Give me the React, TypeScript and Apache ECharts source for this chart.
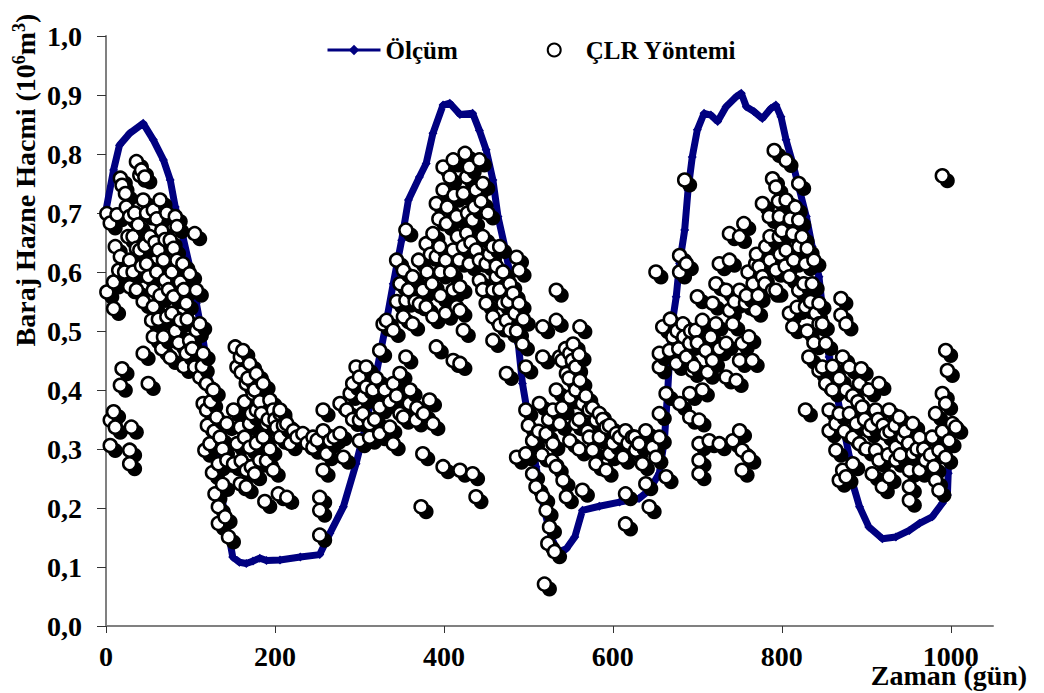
import React, { useEffect, useRef } from "react";
import * as echarts from "echarts";

// Ölçüm (measured) series: day and volume readings
const olcumDays = [0, 9, 16, 28, 44, 56, 68, 76, 82, 91, 99, 107, 115, 123, 129, 133, 139, 145, 150, 158, 166, 174, 182, 190, 206, 230, 253, 265, 281, 296, 308, 320, 330, 340, 350, 358, 371, 379, 387, 399, 407, 419, 434, 442, 450, 458, 464, 472, 482, 488, 493, 501, 509, 519, 527, 535, 545, 555, 564, 584, 608, 631, 643, 655, 661, 665, 669, 675, 679, 685, 689, 694, 700, 708, 716, 724, 734, 746, 752, 758, 767, 777, 787, 793, 799, 805, 813, 821, 829, 836, 844, 850, 856, 864, 872, 880, 884, 892, 903, 919, 935, 951, 963, 978, 990, 996, 997, 998, 999];
const olcumValues = [0.705, 0.773, 0.815, 0.835, 0.852, 0.824, 0.79, 0.756, 0.71, 0.66, 0.61, 0.547, 0.485, 0.41, 0.344, 0.259, 0.202, 0.157, 0.117, 0.108, 0.106, 0.11, 0.115, 0.111, 0.112, 0.117, 0.121, 0.157, 0.202, 0.275, 0.343, 0.428, 0.501, 0.58, 0.654, 0.722, 0.761, 0.784, 0.835, 0.883, 0.886, 0.867, 0.869, 0.84, 0.807, 0.756, 0.694, 0.643, 0.569, 0.479, 0.411, 0.343, 0.27, 0.196, 0.151, 0.125, 0.131, 0.151, 0.196, 0.203, 0.21, 0.216, 0.23, 0.259, 0.315, 0.4, 0.501, 0.558, 0.615, 0.671, 0.739, 0.795, 0.841, 0.869, 0.866, 0.855, 0.88, 0.897, 0.903, 0.88, 0.872, 0.86, 0.877, 0.883, 0.863, 0.824, 0.784, 0.739, 0.694, 0.643, 0.592, 0.513, 0.456, 0.4, 0.343, 0.287, 0.241, 0.202, 0.168, 0.148, 0.151, 0.162, 0.174, 0.185, 0.208, 0.222, 0.259, 0.315, 0.345];

// ÇLR Yöntemi estimates: [day, volume]
const clrCycle1 = [[36,0.787],[42,0.773],[46,0.761],[40,0.764],[19,0.747],[17,0.759],[23,0.733],[1,0.699],[5,0.683],[13,0.697],[28,0.694],[44,0.722],[64,0.722],[56,0.705],[82,0.694],[84,0.677],[32,0.66],[52,0.66],[76,0.654],[11,0.643],[17,0.626],[40,0.637],[62,0.637],[28,0.62],[48,0.614],[68,0.62],[91,0.614],[15,0.603],[32,0.6],[9,0.583],[50,0.592],[70,0.586],[88,0.583],[99,0.597],[107,0.569],[1,0.566],[28,0.575],[56,0.569],[80,0.558],[95,0.547],[9,0.538],[56,0.541],[72,0.524],[88,0.518],[111,0.512],[54,0.518],[107,0.501],[56,0.49],[68,0.49],[99,0.484],[44,0.462],[95,0.462],[115,0.462],[105,0.439],[111,0.422],[19,0.436],[17,0.408],[50,0.411],[119,0.411],[127,0.4],[115,0.377],[9,0.363],[5,0.349],[11,0.337],[30,0.337],[5,0.306],[28,0.298],[28,0.275],[119,0.366],[131,0.354],[123,0.309],[135,0.32],[117,0.298],[133,0.275],[143,0.281],[129,0.224],[133,0.202],[133,0.174],[145,0.151],[141,0.185],[105,0.665]];
const clrCycle1Dense = [[24,0.71],[34,0.7],[38,0.68],[48,0.7],[60,0.69],[66,0.67],[72,0.7],[26,0.66],[36,0.64],[46,0.645],[58,0.65],[70,0.655],[80,0.64],[22,0.6],[42,0.61],[60,0.6],[78,0.6],[84,0.62],[36,0.57],[44,0.55],[64,0.56],[74,0.57],[92,0.57],[62,0.52],[78,0.53],[96,0.52],[82,0.5],[66,0.47],[86,0.48],[102,0.47],[76,0.455],[92,0.44],[114,0.44],[124,0.38],[120,0.34],[128,0.33],[138,0.3],[126,0.26],[138,0.24]];
const clrTrough1 = [[153,0.473],[162,0.467],[159,0.456],[170,0.445],[155,0.439],[178,0.428],[166,0.411],[186,0.411],[174,0.394],[194,0.383],[178,0.366],[151,0.366],[143,0.343],[159,0.337],[170,0.343],[198,0.366],[190,0.343],[206,0.36],[202,0.337],[155,0.309],[170,0.303],[186,0.32],[151,0.275],[166,0.264],[182,0.281],[198,0.264],[159,0.241],[166,0.236],[188,0.211],[204,0.224],[176,0.258],[206,0.366],[214,0.343],[206,0.32],[222,0.331],[233,0.326],[218,0.309],[245,0.32],[257,0.331],[245,0.303],[265,0.314],[261,0.292],[277,0.326],[281,0.286],[257,0.366],[214,0.218],[257,0.264],[253,0.218],[253,0.196],[253,0.154]];
const clrTrough1Dense = [[160,0.43],[168,0.42],[176,0.4],[182,0.38],[164,0.38],[172,0.36],[184,0.36],[192,0.35],[200,0.35],[210,0.34],[226,0.32],[238,0.31],[250,0.315],[270,0.32],[164,0.32],[178,0.31],[194,0.3],[160,0.28],[172,0.27],[190,0.28]];
const clrRise2 = [[277,0.377],[289,0.394],[296,0.439],[308,0.439],[300,0.422],[308,0.405],[292,0.411],[285,0.366],[304,0.388],[300,0.349],[312,0.343],[324,0.371],[324,0.326],[300,0.314],[312,0.32],[336,0.337],[340,0.309],[352,0.354],[359,0.377],[367,0.349],[383,0.383],[387,0.343],[375,0.292],[399,0.27],[373,0.202],[355,0.456],[340,0.411],[348,0.428],[324,0.467],[332,0.518],[328,0.512],[340,0.501],[352,0.524],[363,0.512],[344,0.62],[352,0.603],[348,0.58],[363,0.592],[375,0.569],[355,0.552],[371,0.546],[379,0.541],[387,0.524],[391,0.473],[411,0.45],[355,0.671],[387,0.665],[379,0.648],[395,0.643],[391,0.626],[411,0.637],[411,0.569],[415,0.541],[391,0.716],[399,0.739],[399,0.778],[411,0.79],[407,0.761],[415,0.694],[403,0.682]];
const clrRise2Dense = [[316,0.4],[320,0.42],[330,0.4],[336,0.38],[344,0.39],[348,0.36],[360,0.4],[368,0.37],[376,0.36],[292,0.35],[304,0.36],[318,0.35],[344,0.55],[358,0.57],[366,0.55],[380,0.6],[386,0.58],[396,0.6],[402,0.62],[408,0.6],[396,0.56],[402,0.53],[384,0.63],[370,0.62],[394,0.69],[404,0.71],[412,0.73],[416,0.66],[418,0.62]];
const clrFall2 = [[425,0.801],[430,0.778],[442,0.79],[427,0.761],[438,0.739],[423,0.733],[446,0.75],[434,0.688],[427,0.666],[446,0.66],[423,0.643],[438,0.637],[458,0.643],[466,0.643],[430,0.614],[450,0.614],[486,0.625],[489,0.603],[442,0.586],[462,0.592],[419,0.575],[458,0.569],[482,0.564],[450,0.547],[470,0.547],[489,0.547],[458,0.524],[474,0.518],[419,0.535],[423,0.501],[458,0.484],[478,0.501],[493,0.478],[419,0.445],[474,0.428],[497,0.439],[533,0.569],[533,0.518],[517,0.507],[561,0.507],[517,0.456],[537,0.456],[553,0.478],[549,0.462],[556,0.439],[545,0.428],[561,0.416],[533,0.4],[549,0.388],[564,0.377],[513,0.377],[529,0.366],[497,0.366],[572,0.366],[580,0.349],[537,0.343],[556,0.343],[592,0.337],[604,0.326],[615,0.331],[623,0.32],[631,0.309],[521,0.326],[505,0.314],[529,0.309],[549,0.314],[576,0.298],[596,0.292],[612,0.286],[627,0.298],[486,0.286],[497,0.292],[580,0.275],[592,0.264],[533,0.27],[505,0.258],[541,0.247],[509,0.236],[517,0.219],[545,0.219],[564,0.23],[615,0.224],[434,0.258],[438,0.219],[419,0.264],[521,0.196],[525,0.168],[523,0.14],[531,0.126],[519,0.071],[615,0.173]];
const clrFall2Dense = [[428,0.7],[436,0.71],[444,0.72],[452,0.7],[432,0.65],[442,0.62],[454,0.63],[462,0.61],[470,0.6],[478,0.58],[446,0.57],[466,0.57],[476,0.55],[484,0.53],[466,0.51],[486,0.5],[494,0.52],[540,0.45],[544,0.47],[552,0.45],[560,0.46],[548,0.42],[556,0.4],[568,0.39],[576,0.37],[584,0.36],[588,0.35],[596,0.34],[608,0.32],[618,0.31],[626,0.32],[600,0.31],[584,0.32],[570,0.33],[560,0.35],[540,0.37],[524,0.35],[512,0.33],[500,0.34],[516,0.29],[528,0.28],[560,0.3],[572,0.32]];
const clrRise3 = [[631,0.309],[639,0.331],[647,0.303],[655,0.32],[635,0.275],[651,0.286],[639,0.241],[643,0.202],[663,0.253],[655,0.36],[663,0.394],[655,0.439],[655,0.462],[659,0.507],[671,0.49],[667,0.467],[683,0.512],[675,0.445],[691,0.479],[698,0.501],[706,0.518],[687,0.456],[710,0.467],[722,0.512],[718,0.45],[734,0.479],[694,0.433],[691,0.394],[706,0.4],[679,0.377],[691,0.354],[702,0.349],[742,0.512],[750,0.45],[753,0.479],[761,0.49],[765,0.45],[734,0.422],[746,0.416],[702,0.309],[702,0.281],[702,0.258],[714,0.314],[726,0.309],[742,0.314],[750,0.331],[753,0.298],[761,0.286],[753,0.264],[651,0.6],[679,0.628],[679,0.6],[687,0.614],[685,0.756],[700,0.558],[726,0.614],[738,0.62],[722,0.58],[734,0.569],[750,0.569],[757,0.547],[718,0.547],[738,0.535],[769,0.535],[738,0.665],[750,0.66],[755,0.682],[769,0.614],[777,0.592],[789,0.569],[777,0.716],[789,0.758],[793,0.744],[791,0.806],[805,0.789],[820,0.75],[785,0.694],[797,0.694],[805,0.722],[820,0.688],[797,0.66],[813,0.665],[781,0.643],[805,0.637],[820,0.643],[828,0.614],[773,0.609],[793,0.603],[809,0.592],[820,0.569],[793,0.569],[809,0.53],[813,0.507],[828,0.541],[836,0.58],[832,0.456],[828,0.366],[844,0.512],[844,0.433]];
const clrRise3Dense = [[668,0.52],[676,0.5],[684,0.49],[692,0.5],[700,0.48],[716,0.49],[726,0.47],[678,0.47],[696,0.44],[712,0.43],[744,0.55],[758,0.56],[766,0.58],[772,0.56],[780,0.58],[760,0.6],[770,0.63],[786,0.62],[798,0.63],[804,0.61],[814,0.62],[786,0.66],[800,0.67],[810,0.69],[816,0.71],[796,0.72],[824,0.66],[830,0.64],[838,0.62],[826,0.58],[834,0.55],[840,0.53],[818,0.54],[830,0.5],[838,0.48]];
const clrFall3 = [[990,0.763],[870,0.555],[870,0.527],[876,0.512],[872,0.456],[880,0.439],[894,0.436],[844,0.547],[848,0.512],[852,0.479],[848,0.439],[852,0.411],[860,0.4],[856,0.366],[864,0.343],[856,0.331],[864,0.298],[872,0.264],[876,0.253],[892,0.411],[903,0.4],[915,0.411],[895,0.371],[911,0.366],[927,0.366],[939,0.354],[955,0.343],[888,0.343],[903,0.331],[923,0.326],[943,0.32],[963,0.32],[978,0.32],[892,0.309],[911,0.298],[935,0.303],[955,0.292],[970,0.281],[884,0.275],[915,0.281],[935,0.281],[907,0.258],[927,0.253],[951,0.264],[963,0.264],[919,0.236],[951,0.236],[951,0.213],[982,0.247],[986,0.23],[994,0.467],[996,0.433],[990,0.394],[982,0.36],[994,0.377],[1002,0.343],[1006,0.337],[998,0.314],[986,0.298],[994,0.286],[868,0.247]];
const clrFall3Dense = [[860,0.44],[868,0.42],[876,0.4],[884,0.39],[880,0.36],[890,0.38],[898,0.35],[906,0.34],[914,0.35],[920,0.34],[928,0.33],[934,0.34],[946,0.33],[950,0.31],[960,0.3],[968,0.3],[976,0.29],[940,0.29],[926,0.29],[900,0.3],[884,0.32],[874,0.33],[868,0.36],[980,0.27],[990,0.33]];

const xTicks = [0, 200, 400, 600, 800, 1000];
const yTicks = [0, 0.1, 0.2, 0.3, 0.4, 0.5, 0.6, 0.7, 0.8, 0.9, 1.0];

const FONT = '"Liberation Serif", "Times New Roman", serif';
const NAVY = "#000080";

export default function App() {
  const ref = useRef<HTMLDivElement>(null);

  useEffect(() => {
    if (!ref.current) return;
    const chart = echarts.init(ref.current, null, { renderer: "svg" });
    const lineData = olcumDays.map((d, i) => [d, olcumValues[i]]);
    const clrData = [
      ...clrCycle1, ...clrCycle1Dense,
      ...clrTrough1, ...clrTrough1Dense,
      ...clrRise2, ...clrRise2Dense,
      ...clrFall2, ...clrFall2Dense,
      ...clrRise3, ...clrRise3Dense,
      ...clrFall3, ...clrFall3Dense,
    ].sort((a, b) => a[0] - b[0]);

    chart.setOption({
      animation: false,
      backgroundColor: "#ffffff",
      grid: { left: 106, top: 36, right: 51, bottom: 67, containLabel: false },
      legend: {
        left: 321,
        top: 31,
        itemWidth: 53,
        itemHeight: 13,
        itemGap: 89,
        textStyle: { fontFamily: FONT, fontWeight: "bold", fontSize: 25, color: "#000", lineHeight: 28 },
        data: [
          { name: "Ölçüm", lineStyle: { width: 3, color: NAVY }, itemStyle: { color: NAVY } },
          { name: "ÇLR Yöntemi", icon: "circle", itemStyle: { color: "#fff", borderColor: "#000", borderWidth: 2 } },
        ],
      },
      xAxis: {
        type: "value",
        min: 0,
        max: 1050,
        interval: 200,
        splitLine: { show: false },
        axisLine: { show: true, lineStyle: { color: "#808080", width: 2 } },
        axisTick: { show: true, length: 7, lineStyle: { color: "#333", width: 1 }, customValues: xTicks },
        axisLabel: {
          customValues: xTicks,
          margin: 16,
          fontFamily: FONT,
          fontWeight: "bold",
          fontSize: 28,
          color: "#000",
          formatter: (v: number) => String(v),
        },
      },
      yAxis: {
        type: "value",
        min: 0,
        max: 1,
        interval: 0.1,
        splitLine: { show: false },
        axisLine: { show: true, lineStyle: { color: "#808080", width: 2 } },
        axisTick: { show: true, length: 9, lineStyle: { color: "#333", width: 1 }, customValues: yTicks },
        axisLabel: {
          customValues: yTicks,
          margin: 24,
          fontFamily: FONT,
          fontWeight: "bold",
          fontSize: 28,
          color: "#000",
          formatter: (v: number) => v.toFixed(1).replace(".", ","),
        },
      },
      series: [
        {
          name: "Ölçüm",
          type: "line",
          data: lineData,
          symbol: "diamond",
          symbolSize: 9,
          showAllSymbol: true,
          lineStyle: { color: NAVY, width: 7 },
          itemStyle: { color: NAVY },
          z: 2,
        },
        {
          name: "ÇLR Yöntemi",
          type: "custom",
          data: clrData,
          itemStyle: { color: "#fff", borderColor: "#000" },
          renderItem: (params: any, api: any) => {
            const p = api.coord([api.value(0), api.value(1)]);
            return {
              type: "group",
              children: [
                { type: "circle", shape: { cx: p[0] + 5, cy: p[1] + 5, r: 7.5 }, style: { fill: "#000" } },
                { type: "circle", shape: { cx: p[0], cy: p[1], r: 6.5 }, style: { fill: "#fff", stroke: "#000", lineWidth: 2.5 } },
              ],
            };
          },
          z: 3,
        },
      ],
      graphic: [
        {
          type: "text",
          x: 25,
          y: 180,
          rotation: Math.PI / 2,
          style: {
            text: "{a|Baraj Hazne Hacmi (10}{s|6}{a|m}{s|3}{a|)}",
            align: "center",
            verticalAlign: "middle",
            rich: {
              a: { fontFamily: FONT, fontWeight: "bold", fontSize: 28, fill: "#000", lineHeight: 30 },
              s: { fontFamily: FONT, fontWeight: "bold", fontSize: 18, fill: "#000", verticalAlign: "top", lineHeight: 18 },
            },
          },
        },
        {
          type: "text",
          x: 949,
          y: 675,
          style: {
            text: "Zaman (gün)",
            align: "center",
            verticalAlign: "middle",
            fontFamily: FONT,
            fontWeight: "bold",
            fontSize: 28,
            fill: "#000",
          },
          z: 10,
        },
      ],
    });
    return () => chart.dispose();
  }, []);

  return <div ref={ref} style={{ position: "fixed", left: 0, top: 0, width: 1044, height: 693, background: "#fff" }} />;
}
